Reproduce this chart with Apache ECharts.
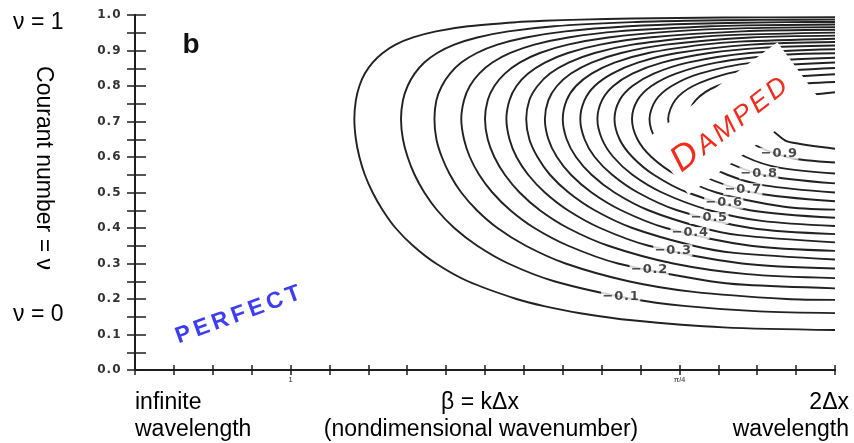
<!DOCTYPE html>
<html><head><meta charset="utf-8">
<script src="https://cdn.jsdelivr.net/npm/echarts@6/dist/echarts.min.js"></script>
<style>html,body{margin:0;padding:0;background:#fff}#c{width:854px;height:443px}</style>
</head><body><div id="c"></div>
<script>
// x: tick units (18 intervals across beta = 0 .. pi); y: Courant number
const xTickLabels = {4: '1', 14: 'π/4'};
const yLabels = ['0.0','0.1','0.2','0.3','0.4','0.5','0.6','0.7','0.8','0.9','1.0'];

// contour lines (amplitude error), every 0.05
const c05 = [[18,0.9937],[15.13,0.9928],[12.78,0.9902],[11.45,0.9871],[10.52,0.9837],[9.81,0.9798],[8.56,0.9682],[7.74,0.9539],[7.15,0.9367],[6.70,0.9165],[6.37,0.893],[6.11,0.866],[5.91,0.835],[5.77,0.800],[5.68,0.760],[5.64,0.707],[5.68,0.65],[5.77,0.60],[5.91,0.55],[6.11,0.50],[6.37,0.45],[6.70,0.40],[7.15,0.35],[7.74,0.30],[8.56,0.25],[9.81,0.20],[10.52,0.18],[11.45,0.16],[12.78,0.14],[15.13,0.12],[18,0.1125]];
const c10 = [[18,0.9871],[16.06,0.9863],[14.18,0.9837],[12.79,0.9798],[10.78,0.9682],[9.60,0.9539],[8.80,0.9367],[8.21,0.9165],[7.77,0.893],[7.44,0.866],[7.19,0.835],[7.01,0.800],[6.89,0.760],[6.84,0.707],[6.89,0.65],[7.01,0.60],[7.19,0.55],[7.44,0.50],[7.77,0.45],[8.21,0.40],[8.80,0.35],[9.60,0.30],[10.78,0.25],[12.79,0.20],[14.18,0.18],[16.06,0.165],[18,0.1602]];
const c15 = [[18,0.9803],[16.76,0.9798],[14.36,0.9755],[12.69,0.9682],[11.07,0.9539],[10.05,0.9367],[9.32,0.9165],[8.79,0.893],[8.39,0.866],[8.10,0.835],[7.89,0.800],[7.75,0.760],[7.70,0.707],[7.75,0.65],[7.89,0.60],[8.10,0.55],[8.39,0.50],[8.79,0.45],[9.32,0.40],[10.05,0.35],[11.07,0.30],[12.69,0.25],[14.36,0.22],[16.76,0.20],[18,0.1975]];
const c20 = [[18,0.9733],[15.69,0.9708],[14.79,0.9682],[12.42,0.9539],[11.14,0.9367],[10.27,0.9165],[9.65,0.893],[9.19,0.866],[8.85,0.835],[8.61,0.800],[8.46,0.760],[8.39,0.707],[8.46,0.65],[8.61,0.60],[8.85,0.55],[9.19,0.50],[9.65,0.45],[10.27,0.40],[11.14,0.35],[12.42,0.30],[14.79,0.25],[15.69,0.24],[18,0.2298]];
const c25 = [[18,0.9659],[15.74,0.9629],[13.84,0.9539],[12.17,0.9367],[11.13,0.9165],[10.41,0.893],[9.89,0.866],[9.51,0.835],[9.24,0.800],[9.07,0.760],[9.00,0.707],[9.07,0.65],[9.24,0.60],[9.51,0.55],[9.89,0.50],[10.41,0.45],[11.13,0.40],[12.17,0.35],[13.84,0.30],[15.74,0.27],[18,0.2588]];
const c30 = [[18,0.9583],[15.61,0.9539],[13.21,0.9367],[11.96,0.9165],[11.13,0.893],[10.54,0.866],[10.11,0.835],[9.81,0.800],[9.63,0.760],[9.55,0.707],[9.63,0.65],[9.81,0.60],[10.11,0.55],[10.54,0.50],[11.13,0.45],[11.96,0.40],[13.21,0.35],[15.61,0.30],[18,0.2858]];
const c35 = [[18,0.9503],[15.41,0.9440],[14.36,0.9367],[12.79,0.9165],[11.82,0.893],[11.15,0.866],[10.67,0.835],[10.35,0.800],[10.14,0.760],[10.06,0.707],[10.14,0.65],[10.35,0.60],[10.67,0.55],[11.15,0.50],[11.82,0.45],[12.79,0.40],[14.36,0.35],[15.41,0.33],[18,0.3113]];
const c40 = [[18,0.9420],[15.83,0.9367],[13.65,0.9165],[12.50,0.893],[11.74,0.866],[11.21,0.835],[10.85,0.800],[10.63,0.760],[10.54,0.707],[10.63,0.65],[10.85,0.60],[11.21,0.55],[11.74,0.50],[12.50,0.45],[13.65,0.40],[15.83,0.35],[18,0.3357]];
const c45 = [[18,0.9332],[15.53,0.9250],[14.61,0.9165],[13.20,0.893],[12.33,0.866],[11.74,0.835],[11.34,0.800],[11.10,0.760],[11.00,0.707],[11.10,0.65],[11.34,0.60],[11.74,0.55],[12.33,0.50],[13.20,0.45],[14.61,0.40],[15.53,0.38],[18,0.3594]];
const c50 = [[18,0.9239],[15.83,0.9165],[13.94,0.893],[12.93,0.866],[12.27,0.835],[11.82,0.800],[11.56,0.760],[11.45,0.707],[11.56,0.65],[11.82,0.60],[12.27,0.55],[12.93,0.50],[13.94,0.45],[15.83,0.40],[18,0.3827]];
const c55 = [[18,0.9140],[16.11,0.9075],[14.77,0.893],[13.55,0.866],[12.79,0.835],[12.30,0.800],[12.01,0.760],[11.89,0.707],[12.01,0.65],[12.30,0.60],[12.79,0.55],[13.55,0.50],[14.77,0.45],[16.11,0.42],[18,0.4057]];
const c60 = [[18,0.9035],[15.81,0.893],[14.21,0.866],[13.34,0.835],[12.79,0.800],[12.46,0.760],[12.33,0.707],[12.46,0.65],[12.79,0.60],[13.34,0.55],[14.21,0.50],[15.81,0.45],[18,0.4287]];
const c65 = [[18,0.8921],[16.69,0.8879],[14.95,0.866],[13.91,0.835],[13.28,0.800],[12.92,0.760],[12.78,0.707],[12.92,0.65],[13.28,0.60],[13.91,0.55],[14.95,0.50],[16.69,0.46],[18,0.4519]];
const c70 = [[18,0.8797],[15.88,0.866],[14.52,0.835],[13.80,0.800],[13.39,0.760],[13.23,0.707],[13.39,0.65],[13.80,0.60],[14.52,0.55],[15.88,0.50],[18,0.4755]];
const c75 = [[18,0.866],[16.18,0.8542],[15.23,0.835],[14.35,0.800],[13.89,0.760],[13.71,0.707],[13.89,0.65],[14.35,0.60],[15.23,0.55],[16.18,0.52],[18,0.50]];
const c80 = [[18,0.8507],[16.13,0.835],[14.97,0.800],[14.42,0.760],[14.21,0.707],[14.42,0.65],[14.97,0.60],[16.13,0.55],[18,0.5257]];
const c85 = [[18,0.8329],[16.56,0.8217],[15.71,0.800],[15.01,0.760],[14.76,0.707],[15.01,0.65],[15.71,0.60],[16.56,0.57],[18,0.5535]];
const c90 = [[18,0.8112],[16.76,0.800],[15.70,0.760],[15.38,0.707],[15.70,0.65],[16.76,0.60],[18,0.5847]];
const c95 = [[18,0.7822],[16.92,0.7684],[16.67,0.760],[16.17,0.707],[16.67,0.65],[16.92,0.64],[18,0.6231]];

const contours = [c05,c10,c15,c20,c25,c30,c35,c40,c45,c50,c55,c60,c65,c70,c75,c80,c85,c90,c95];
const contourLabels = [
  [12.49,0.207,'−0.1'],[13.22,0.283,'−0.2'],[13.83,0.337,'−0.3'],[14.27,0.386,'−0.4'],
  [14.76,0.428,'−0.5'],[15.14,0.471,'−0.6'],[15.63,0.509,'−0.7'],[16.04,0.554,'−0.8'],[16.56,0.609,'−0.9']
];

const chart = echarts.init(document.getElementById('c'), null, {renderer:'canvas'});
const axisCol = '#1e1e1e';
const series = contours.map(c => ({
  type:'line', data:c, showSymbol:false, smooth:0.3, silent:true,
  lineStyle:{color:'#222', width:1.9}, z:2, animation:false
}));
series.push({
  type:'scatter', data:contourLabels, symbolSize:1, itemStyle:{color:'rgba(0,0,0,0)'}, z:5, animation:false,
  label:{show:true, position:'inside', backgroundColor:'#fff', padding:[0,1], lineHeight:12,
    formatter:p=>p.value[2].split('').map(ch=>'{c|'+ch+'}').join(''),
    rich:{c:{fontFamily:'DejaVu Sans', fontWeight:'bold', fontSize:13, color:'#1a1a1a', padding:[0,0.4], lineHeight:12}}}
});

const font = 'Liberation Sans';
chart.setOption({
  animation:false,
  grid:{left:135, right:19, top:15, bottom:73},
  xAxis:[
    {type:'value', min:0, max:18, interval:1, position:'bottom',
     axisLine:{lineStyle:{color:axisCol, width:2}}, axisTick:{inside:true, length:5, lineStyle:{color:axisCol,width:1.5}},
     axisLabel:{formatter:v=>xTickLabels[v]||'', fontSize:7, color:'#666', margin:7, fontWeight:'bold'}, splitLine:{show:false}},
    {type:'value', min:0, max:18, interval:1, position:'top',
     axisLine:{lineStyle:{color:axisCol, width:2}}, axisTick:{inside:true, length:5, lineStyle:{color:axisCol,width:1.5}},
     axisLabel:{show:false}, splitLine:{show:false}}
  ],
  yAxis:[
    {type:'value', min:0, max:1, interval:0.05, position:'left',
     axisLine:{lineStyle:{color:axisCol, width:2}}, axisTick:{inside:true, length:11, lineStyle:{color:axisCol,width:1.5}},
     axisLabel:{formatter:v=>{const i=Math.round(v*20); if(i%2!==0) return ''; return yLabels[i/2].split('').map(ch=>'{a|'+ch+'}').join('');},
       margin:14, rich:{a:{fontFamily:'DejaVu Sans', fontWeight:'bold', fontSize:12, color:'#333', padding:[0,0.5]}}},
     splitLine:{show:false}},
    {type:'value', min:0, max:1, interval:0.05, position:'right',
     axisLine:{lineStyle:{color:axisCol, width:2}}, axisTick:{inside:true, length:8, lineStyle:{color:axisCol,width:1.5}},
     axisLabel:{show:false}, splitLine:{show:false}}
  ],
  series: series,
  graphic:[
    {type:'text', left:13, top:11, style:{text:'ν = 1', font:'23px '+font, fill:'#000'}},
    {type:'text', left:13, top:303, style:{text:'ν = 0', font:'23px '+font, fill:'#000'}},
    {type:'text', x:43, y:168, rotation:-Math.PI/2, style:{text:'Courant number = ν', font:'23px '+font, fill:'#000', align:'center', verticalAlign:'middle'}},
    {type:'text', x:135, y:403, style:{text:'infinite', font:'23px '+font, fill:'#000', align:'left', verticalAlign:'middle'}},
    {type:'text', x:135, y:430, style:{text:'wavelength', font:'23px '+font, fill:'#000', align:'left', verticalAlign:'middle'}},
    {type:'text', x:480, y:403, style:{text:'β = kΔx', font:'23px '+font, fill:'#000', align:'center', verticalAlign:'middle'}},
    {type:'text', x:481, y:430, style:{text:'(nondimensional wavenumber)', font:'23px '+font, fill:'#000', align:'center', verticalAlign:'middle'}},
    {type:'text', x:849, y:403, style:{text:'2Δx', font:'23px '+font, fill:'#000', align:'right', verticalAlign:'middle'}},
    {type:'text', x:849, y:430, style:{text:'wavelength', font:'23px '+font, fill:'#000', align:'right', verticalAlign:'middle'}},
    {type:'text', x:191, y:45, style:{text:'b', font:'bold 28px '+font, fill:'#111', align:'center', verticalAlign:'middle'}},
    {type:'text', x:238, y:315, rotation:20*Math.PI/180, style:{text:'{p|P}{p|E}{p|R}{p|F}{p|E}{p|C}{p|T}', align:'center', verticalAlign:'middle',
      rich:{p:{font:'bold 23px '+font, fill:'#3d3df5', padding:[0,2]}}}},
    {type:'rect', x:733, y:118.5, rotation:36.4*Math.PI/180, shape:{x:-81, y:-35, width:162, height:70}, style:{fill:'#fff'}, z:100},
    {type:'text', x:729, y:123, rotation:38*Math.PI/180, z:101, style:{text:'{a|D}{b|A}{b|M}{b|P}{b|E}{b|D}', align:'center', verticalAlign:'middle',
      rich:{a:{font:'italic 36px '+font, fill:'#f52a1a', padding:[0,1.5]}, b:{font:'italic 27px '+font, fill:'#f52a1a', padding:[6,1.5,0,1.5]}}}}
  ]
});
</script></body></html>
